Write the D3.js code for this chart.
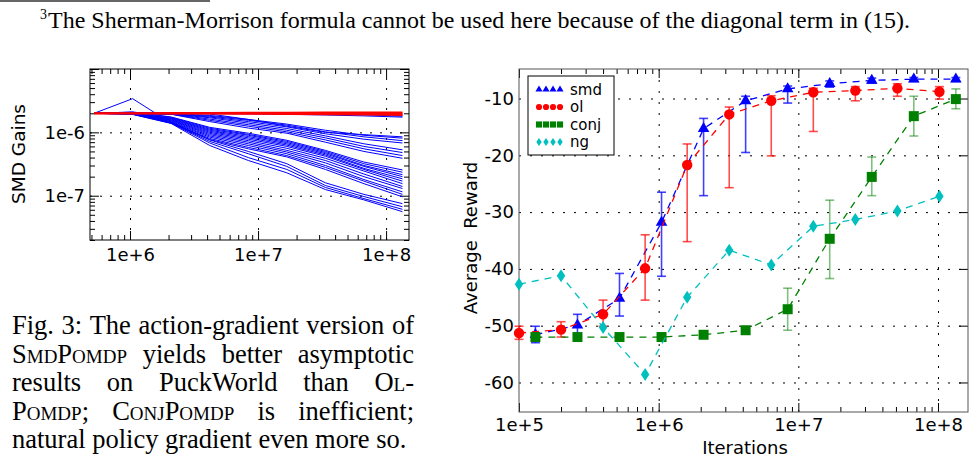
<!DOCTYPE html>
<html>
<head>
<meta charset="utf-8">
<script src="https://cdn.jsdelivr.net/npm/d3@7"></script>
<style>
  body { margin: 0; background: #fff; }
  svg { display: block; }
</style>
</head>
<body>
<script>
// ---------- data ----------
// left panel: SMD gains (units of 1e-6) vs iterations
var gainIters = [524288, 1048576, 2097152, 4194304, 8388608, 16777216, 33554432, 67108864, 134217728];
var gainUnit = 1e-6;
var blueGains = [
  [2, 2.05, 2.0, 2.0, 2.0, 1.98, 1.95, 1.9, 1.8],
  [2, 2.0, 2.0, 1.98, 1.96, 1.93, 1.88, 1.82, 1.74],
  [2, 2.02, 2.01, 2.0, 1.99, 1.97, 1.95, 1.92, 1.88],
  [2, 2.0, 2.0, 2.0, 1.99, 1.99, 1.98, 1.97, 1.95],
  [2, 2, 1.98, 1.85, 1.6, 1.35, 1.08, 0.9, 0.81],
  [2, 2, 1.97, 1.8, 1.55, 1.3, 1.02, 0.85, 0.74],
  [2, 2, 1.96, 1.75, 1.48, 1.22, 0.95, 0.78, 0.68],
  [2, 2, 1.95, 1.7, 1.4, 1.15, 0.88, 0.66, 0.53],
  [2, 2, 1.95, 1.62, 1.32, 1.08, 0.82, 0.6, 0.48],
  [2, 2, 1.94, 1.55, 1.25, 1.02, 0.76, 0.55, 0.43],
  [2, 2, 1.93, 1.48, 1.17, 0.97, 0.7, 0.5, 0.39],
  [2, 2.1, 1.75, 1.2, 0.97, 0.75, 0.52, 0.34, 0.255],
  [2, 2.08, 1.72, 1.16, 0.93, 0.72, 0.5, 0.32, 0.235],
  [2, 2.02, 1.68, 1.12, 0.9, 0.69, 0.48, 0.3, 0.215],
  [2, 2.0, 1.65, 1.08, 0.86, 0.66, 0.46, 0.29, 0.2],
  [2, 2.0, 1.62, 1.04, 0.82, 0.63, 0.44, 0.27, 0.185],
  [2, 2.0, 1.58, 1.0, 0.78, 0.6, 0.42, 0.26, 0.17],
  [2, 2.0, 1.55, 0.96, 0.74, 0.56, 0.39, 0.245, 0.155],
  [2, 2.0, 1.52, 0.92, 0.7, 0.52, 0.36, 0.22, 0.14],
  [2, 2.0, 1.48, 0.88, 0.66, 0.49, 0.33, 0.2, 0.13],
  [2, 2.0, 1.45, 0.84, 0.62, 0.46, 0.3, 0.18, 0.115],
  [2, 2.0, 1.42, 0.8, 0.58, 0.43, 0.28, 0.17, 0.105],
  [2, 2.0, 1.4, 0.77, 0.55, 0.41, 0.26, 0.155, 0.096],
  [2, 1.95, 1.45, 0.76, 0.5, 0.32, 0.16, 0.105, 0.075],
  [2, 1.95, 1.42, 0.72, 0.46, 0.29, 0.145, 0.097, 0.067],
  [2, 1.93, 1.4, 0.68, 0.4, 0.26, 0.135, 0.09, 0.061],
  [2, 1.92, 1.38, 0.62, 0.36, 0.23, 0.125, 0.086, 0.056]
];
var spikeIters = [524288, 1048576, 1572864, 2097152, 4194304, 8388608, 16777216, 33554432, 67108864, 134217728];
var spikeGains = [2, 3.4, 2.02, 2.0, 1.95, 1.6, 1.25, 1.0, 0.92, 0.85];
var redGains = [
  [2, 2, 2, 2, 2, 2, 2, 2, 2],
  [2, 2, 2.02, 2.03, 2.04, 2.05, 2.06, 2.07, 2.07],
  [2, 1.99, 1.98, 1.97, 1.96, 1.95, 1.93, 1.91, 1.88]
];

// right panel: average reward vs iterations
var smdIters = [131072, 262144, 524288, 1048576, 2097152, 4194304, 8388608, 16777216, 33554432, 67108864, 134217728];
var olIters = [1e5, 2e5, 4e5, 8e5, 1.6e6, 3.2e6, 6.4e6, 1.28e7, 2.56e7, 5.12e7, 1.024e8];
var smdReward = [-51.6, -49.9, -45.2, -31.8, -15.3, -10.4, -8.3, -7.4, -6.8, -6.6, -6.6];
var smdLow    = [-53, -52, -48.3, -41.3, -27.1, -19.5, -10.8, -8.0, -7.3, -7.0, -7.0];
var smdHigh   = [-50.1, -48, -40.8, -26.5, -13.5, -9.6, -7.8, -6.9, -6.4, -6.3, -6.3];
var olReward = [-51.3, -50.7, -48.0, -39.9, -21.7, -12.8, -10.4, -8.9, -8.6, -8.2, -8.8];
var olLow    = [-52.4, -52, -50.1, -45.5, -35.2, -25.7, -20.1, -15.8, -10.4, -9.6, -10.1];
var olHigh   = [-50.1, -49.3, -45.5, -34.0, -18.0, -11.5, -9.5, -8.2, -7.9, -7.4, -7.9];
var conjReward = [-52, -52, -52, -52, -51.6, -50.8, -47.1, -34.7, -23.8, -13.1, -10.1];
var conjLow    = [-52, -52, -52, -52, -51.6, -50.8, -50.8, -41.7, -27.1, -16.6, -11.8];
var conjHigh   = [-52, -52, -52, -52, -51.6, -50.8, -43.4, -27.9, -20.3, -9.6, -8.3];
var ngReward = [-42.7, -41.2, -50.3, -58.6, -45.0, -36.7, -39.3, -32.5, -31.3, -29.8, -27.2];

var rewardTicks = [-10, -20, -30, -40, -50, -60];
var legendNames = ["smd", "ol", "conj", "ng"];

var footnote = "The Sherman-Morrison formula cannot be used here because of the diagonal term in (15).";
var captionLines = [
  "Fig. 3: The action-gradient version of",
  "SmdPomdp yields better asymptotic",
  "results on PuckWorld than Ol-",
  "Pomdp; ConjPomdp is inefficient;",
  "natural policy gradient even more so."
];
var smallCapsWords = ["SmdPomdp", "Ol-", "Pomdp;", "ConjPomdp"];

// ---------- setup ----------
var serif = "'Liberation Serif', 'Times New Roman', serif";
var sans = "'DejaVu Sans', sans-serif";

var svg = d3.select("body").append("svg")
  .attr("width", 972)
  .attr("height", 457);

function logTicks(lo, hi) {
  var t = [];
  for (var e = Math.floor(Math.log10(lo)); e <= Math.ceil(Math.log10(hi)); e++) {
    for (var m = 1; m < 10; m++) {
      var v = m * Math.pow(10, e);
      if (v >= lo * 0.999 && v <= hi * 1.001) t.push({v: v, major: m === 1});
    }
  }
  return t;
}

// draw inward tick marks with a d3 axis, no domain line
function tickMarks(g, axisFn, scale, values, size, tx, ty) {
  g.append("g")
    .attr("transform", `translate(${tx},${ty})`)
    .call(axisFn(scale).tickValues(values).tickSize(size).tickFormat(""))
    .call(s => s.select(".domain").remove())
    .selectAll("line").attr("stroke", "#000");
}

// ---------- footnote ----------
svg.append("line")
  .attr("x1", 0).attr("x2", 210).attr("y1", 1).attr("y2", 1)
  .attr("stroke", "#333").attr("stroke-width", 1.5);
svg.append("text")
  .attr("x", 40).attr("y", 19)
  .attr("font-family", serif).attr("font-size", 14)
  .text("3");
svg.append("text")
  .attr("x", 48).attr("y", 28)
  .attr("font-family", serif).attr("font-size", 23.5)
  .attr("textLength", 862).attr("lengthAdjust", "spacingAndGlyphs")
  .text(footnote);

// ---------- left panel ----------
var xL = d3.scaleLog().domain([4.87e5, 1.51e8]).range([90, 409]);
var yL = d3.scaleLog().domain([2e-8, 1e-5]).range([240, 69]);
var left = svg.append("g");

var xLt = logTicks(4.87e5, 1.51e8);
var yLt = logTicks(2e-8, 1e-5);

// grid
left.append("g").attr("transform", "translate(0,240)")
  .call(d3.axisBottom(xL).tickValues([1e6, 1e7, 1e8]).tickSize(-171).tickFormat(""))
  .call(s => s.select(".domain").remove())
  .selectAll("line").attr("stroke", "#000").attr("stroke-dasharray", "2,8");
left.append("g").attr("transform", "translate(90,0)")
  .call(d3.axisLeft(yL).tickValues([1e-6, 1e-7]).tickSize(-319).tickFormat(""))
  .call(s => s.select(".domain").remove())
  .selectAll("line").attr("stroke", "#000").attr("stroke-dasharray", "2,8");

// ticks on all four sides
var xLminor = xLt.filter(d => !d.major).map(d => d.v), xLmajor = xLt.filter(d => d.major).map(d => d.v);
var yLminor = yLt.filter(d => !d.major).map(d => d.v), yLmajor = yLt.filter(d => d.major).map(d => d.v);
tickMarks(left, d3.axisBottom, xL, xLminor, -5, 0, 240);
tickMarks(left, d3.axisBottom, xL, xLmajor, -9, 0, 240);
tickMarks(left, d3.axisTop, xL, xLminor, -5, 0, 69);
tickMarks(left, d3.axisTop, xL, xLmajor, -9, 0, 69);
tickMarks(left, d3.axisLeft, yL, yLminor, -5, 90, 0);
tickMarks(left, d3.axisLeft, yL, yLmajor, -9, 90, 0);
tickMarks(left, d3.axisRight, yL, yLminor, -5, 409, 0);
tickMarks(left, d3.axisRight, yL, yLmajor, -9, 409, 0);

// lines
var gainLine = d3.line().x(d => xL(d[0])).y(d => yL(d[1] * gainUnit));
blueGains.forEach(function(row) {
  left.append("path")
    .datum(gainIters.map((x, i) => [x, row[i]]))
    .attr("d", gainLine)
    .attr("fill", "none").attr("stroke", "#0000ff").attr("stroke-width", 1);
});
left.append("path")
  .datum(spikeIters.map((x, i) => [x, spikeGains[i]]))
  .attr("d", gainLine)
  .attr("fill", "none").attr("stroke", "#0000ff").attr("stroke-width", 1);
redGains.forEach(function(row) {
  left.append("path")
    .datum(gainIters.map((x, i) => [x, row[i]]))
    .attr("d", gainLine)
    .attr("fill", "none").attr("stroke", "#ff0000").attr("stroke-width", 1.8);
});

left.append("rect")
  .attr("x", 90).attr("y", 69).attr("width", 319).attr("height", 171)
  .attr("fill", "none").attr("stroke", "#000").attr("stroke-width", 1);

// labels
left.append("g").attr("transform", "translate(0,240)")
  .call(d3.axisBottom(xL).tickValues([1e6, 1e7, 1e8]).tickSize(0).tickPadding(8)
    .tickFormat(d => "1e+" + Math.round(Math.log10(d))))
  .call(s => s.select(".domain").remove())
  .selectAll("text").attr("font-family", sans).attr("font-size", 18).attr("fill", "#000");
left.append("g").attr("transform", "translate(90,0)")
  .call(d3.axisLeft(yL).tickValues([1e-6, 1e-7]).tickSize(0).tickPadding(5)
    .tickFormat(d => "1e" + Math.round(Math.log10(d))))
  .call(s => s.select(".domain").remove())
  .selectAll("text").attr("font-family", sans).attr("font-size", 18).attr("fill", "#000");
left.append("text")
  .attr("transform", "translate(18,154) rotate(-90)")
  .attr("text-anchor", "middle").attr("dominant-baseline", "central")
  .attr("font-family", sans).attr("font-size", 18.5)
  .text("SMD Gains");

// ---------- caption ----------
var capG = svg.append("g");
captionLines.forEach(function(line, li) {
  var y = 334 + li * 28.5;
  var words = line.split(" ");
  var nodes = words.map(function(w) {
    var t = capG.append("text")
      .attr("y", y)
      .attr("font-family", serif).attr("font-size", 26.5)
      .text(w);
    if (smallCapsWords.indexOf(w) >= 0) t.style("font-variant", "small-caps");
    return t;
  });
  var widths = nodes.map(n => n.node().getComputedTextLength());
  var total = d3.sum(widths);
  var gap = li < captionLines.length - 1 ? (414 - 12 - total) / (words.length - 1) : 6.6;
  var x = 12;
  nodes.forEach(function(n, i) {
    n.attr("x", x);
    x += widths[i] + gap;
  });
});

// ---------- right panel ----------
var xR = d3.scaleLog().domain([1e5, 1.64e8]).range([519, 968]);
var yR = d3.scaleLinear().domain([-65.2, -4.8]).range([412, 69]);
var right = svg.append("g");

right.append("g").attr("transform", "translate(0,412)")
  .call(d3.axisBottom(xR).tickValues([1e6, 1e7, 1e8]).tickSize(-343).tickFormat(""))
  .call(s => s.select(".domain").remove())
  .selectAll("line").attr("stroke", "#000").attr("stroke-dasharray", "2,9");
right.append("g").attr("transform", "translate(519,0)")
  .call(d3.axisLeft(yR).tickValues(rewardTicks).tickSize(-449).tickFormat(""))
  .call(s => s.select(".domain").remove())
  .selectAll("line").attr("stroke", "#000").attr("stroke-dasharray", "2,9");

var xRt = logTicks(1e5, 1.64e8);
var xRminor = xRt.filter(d => !d.major).map(d => d.v), xRmajor = xRt.filter(d => d.major).map(d => d.v);
tickMarks(right, d3.axisBottom, xR, xRminor, -5, 0, 412);
tickMarks(right, d3.axisBottom, xR, xRmajor, -9, 0, 412);
tickMarks(right, d3.axisTop, xR, xRminor, -5, 0, 69);
tickMarks(right, d3.axisTop, xR, xRmajor, -9, 0, 69);
tickMarks(right, d3.axisRight, yR, rewardTicks, -9, 968, 0);

right.append("rect")
  .attr("x", 519).attr("y", 69).attr("width", 449).attr("height", 343)
  .attr("fill", "none").attr("stroke", "#555").attr("stroke-width", 1);

var diamond = "M0,-6.5L4.2,0L0,6.5L-4.2,0Z";
var series = [
  {iters: smdIters, y: smdReward, lo: smdLow, hi: smdHigh, color: "#0000ff", barOp: 0.75,
   mark: d3.symbol().type(d3.symbolTriangle).size(58)(), legend: d3.symbol().type(d3.symbolTriangle).size(22)()},
  {iters: olIters, y: olReward, lo: olLow, hi: olHigh, color: "#ff0000", barOp: 0.7,
   mark: d3.symbol().type(d3.symbolCircle).size(85)(), legend: d3.symbol().type(d3.symbolCircle).size(30)()},
  {iters: smdIters, y: conjReward, lo: conjLow, hi: conjHigh, color: "#008000", barOp: 0.5,
   mark: d3.symbol().type(d3.symbolSquare).size(100)(), legend: d3.symbol().type(d3.symbolSquare).size(38)()},
  {iters: olIters, y: ngReward, lo: null, hi: null, color: "#00bfbf", barOp: 0.7,
   mark: diamond, legend: "M0,-4L2.7,0L0,4L-2.7,0Z"}
];

var rewardLine = d3.line().x(d => xR(d.x)).y(d => yR(d.y));
series.forEach(function(s) {
  var pts = s.iters.map((x, i) => ({x: x, y: s.y[i], lo: s.lo ? s.lo[i] : null, hi: s.hi ? s.hi[i] : null}));
  var g = right.append("g");
  g.append("path").datum(pts).attr("d", rewardLine)
    .attr("fill", "none").attr("stroke", s.color).attr("stroke-width", 1.3)
    .attr("stroke-dasharray", "7,6");
  var bars = pts.filter(d => d.lo !== null && d.hi - d.lo > 0.5);
  var eb = g.append("g").attr("stroke", s.color).attr("stroke-opacity", s.barOp).attr("stroke-width", 1.6);
  bars.forEach(function(d) {
    var cx = xR(d.x);
    eb.append("line").attr("x1", cx).attr("x2", cx).attr("y1", yR(d.lo)).attr("y2", yR(d.hi));
    eb.append("line").attr("x1", cx - 4.5).attr("x2", cx + 4.5).attr("y1", yR(d.lo)).attr("y2", yR(d.lo));
    eb.append("line").attr("x1", cx - 4.5).attr("x2", cx + 4.5).attr("y1", yR(d.hi)).attr("y2", yR(d.hi));
  });
  g.selectAll("path.mark").data(pts).enter().append("path")
    .attr("class", "mark")
    .attr("transform", d => `translate(${xR(d.x)},${yR(d.y)})`)
    .attr("d", s.mark)
    .attr("fill", s.color);
});

// legend
var leg = right.append("g");
leg.append("rect")
  .attr("x", 528).attr("y", 76).attr("width", 86).attr("height", 79)
  .attr("fill", "#fff").attr("stroke", "#000").attr("stroke-width", 1);
var legRows = [89.5, 107, 124.5, 142];
legendNames.forEach(function(name, i) {
  [539, 546, 553, 560].forEach(function(mx) {
    leg.append("path")
      .attr("transform", `translate(${mx},${legRows[i]})`)
      .attr("d", series[i].legend)
      .attr("fill", series[i].color);
  });
  leg.append("text")
    .attr("x", 570).attr("y", legRows[i])
    .attr("dominant-baseline", "central")
    .attr("font-family", sans).attr("font-size", 15)
    .text(name);
});

// axis labels
right.append("g").attr("transform", "translate(0,412)")
  .call(d3.axisBottom(xR).tickValues([1e5, 1e6, 1e7, 1e8]).tickSize(0).tickPadding(6)
    .tickFormat(d => "1e+" + Math.round(Math.log10(d))))
  .call(s => s.select(".domain").remove())
  .selectAll("text").attr("font-family", sans).attr("font-size", 18).attr("fill", "#000");
right.append("g").attr("transform", "translate(519,0)")
  .call(d3.axisLeft(yR).tickValues(rewardTicks).tickSize(0).tickPadding(5).tickFormat(d => String(d)))
  .call(s => s.select(".domain").remove())
  .selectAll("text").attr("font-family", sans).attr("font-size", 18).attr("fill", "#000");
right.append("text")
  .attr("transform", "translate(470,238) rotate(-90)")
  .attr("text-anchor", "middle").attr("dominant-baseline", "central")
  .attr("font-family", sans).attr("font-size", 18)
  .style("white-space", "pre")
  .text("Average  Reward");
right.append("text")
  .attr("x", 745).attr("y", 447)
  .attr("text-anchor", "middle").attr("dominant-baseline", "central")
  .attr("font-family", sans).attr("font-size", 18)
  .text("Iterations");
</script>
</body>
</html>
